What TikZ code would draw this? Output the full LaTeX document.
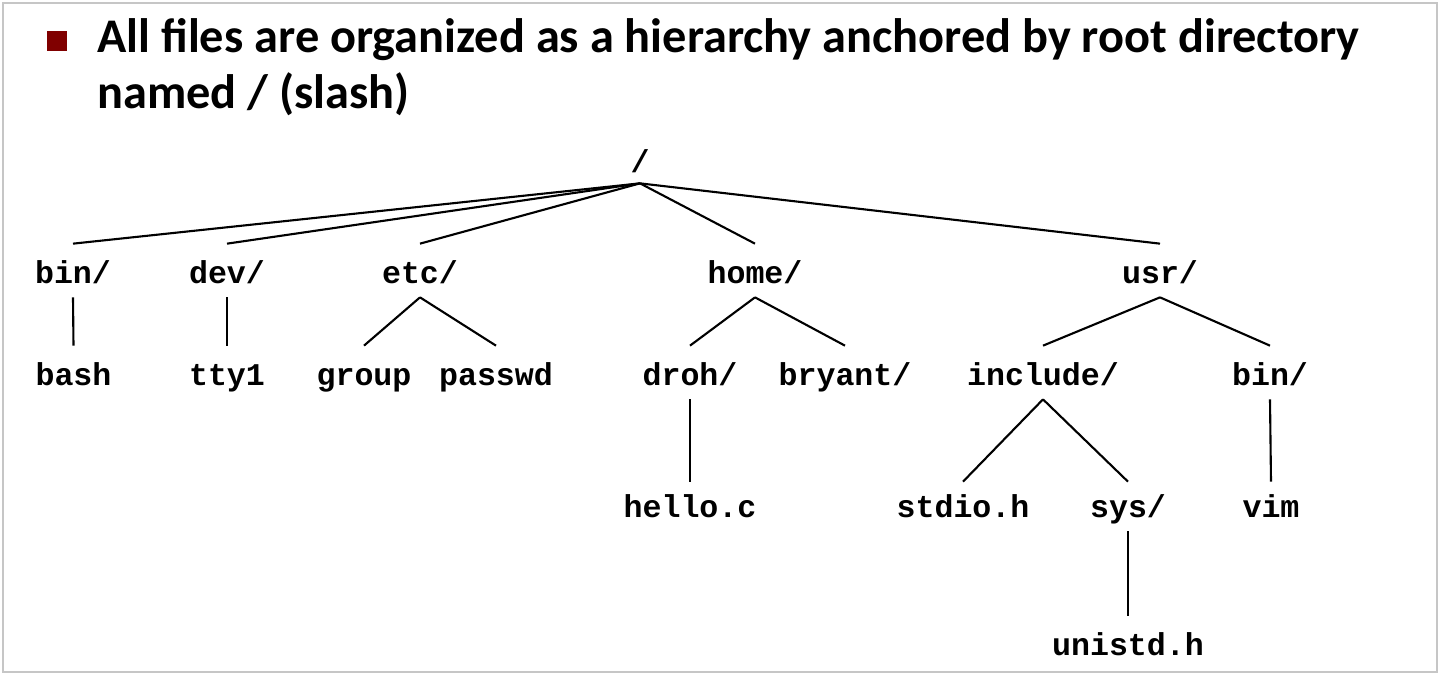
\documentclass[tikz,border=0pt]{standalone}
\usepackage{fontspec}
\setmonofont{Liberation Mono}
\newfontfamily\slidefont{Carlito}
\begin{document}
\begin{tikzpicture}
  \definecolor{bulletred}{RGB}{128,0,0}
  \tikzstyle{dir}=[font=\ttfamily\bfseries\fontsize{18}{20}\selectfont, inner sep=0pt, text height=0.78cm, text depth=0.28cm, anchor=base]
  \tikzstyle{link}=[line width=1.2pt]
  \useasboundingbox (0,0) rectangle (28.8,-13.5);
  \draw[gray!45, line width=0.7pt] (0.06,-0.06) rectangle (28.74,-13.44);

  % Titulo do slide, com o marcador quadrado
  % (base da ultima linha do texto)
  \node[fill=bulletred, minimum size=0.4cm, inner sep=0pt] (bullet) at (1.14,-0.81) {};
  \node[font=\slidefont\bfseries\fontsize{27.5}{31.5}\selectfont, align=left, anchor=base west, inner sep=0pt] (title) at (1.94,-2.16)
    {All files are organized as a hierarchy anchored by root directory\\named / (slash)};

  % Raiz
  \node[dir, text depth=0.22cm] (root) at (12.8,-3.44) {/};

  % Primeiro nivel
  \node[dir] (bin) at (1.46,-5.66) {bin/};
  \node[dir] (dev) at (4.54,-5.66) {dev/};
  \node[dir] (etc) at (8.40,-5.66) {etc/};
  \node[dir] (home) at (15.10,-5.66) {home/};
  \node[dir] (usr) at (23.20,-5.66) {usr/};

  \foreach \d in {bin,dev,etc,home,usr}
    \draw[link] (root.south) -- (\d.north);

  % Segundo nivel
  \node[dir] (bash) at (1.47,-7.70) {bash};
  \node[dir] (tty) at (4.54,-7.70) {tty1};
  \node[dir] (group) at (7.28,-7.70) {group};
  \node[dir] (passwd) at (9.92,-7.70) {passwd};
  \node[dir] (droh) at (13.80,-7.70) {droh/};
  \node[dir] (bryant) at (16.90,-7.70) {bryant/};
  \node[dir] (include) at (20.86,-7.70) {include/};
  \node[dir] (usrbin) at (25.40,-7.70) {bin/};

  \draw[link] (bin.south) -- (bash.north);
  \draw[link] (dev.south) -- (tty.north);
  \draw[link] (etc.south) -- (group.north);
  \draw[link] (etc.south) -- (passwd.north);
  \draw[link] (home.south) -- (droh.north);
  \draw[link] (home.south) -- (bryant.north);
  \draw[link] (usr.south) -- (include.north);
  \draw[link] (usr.south) -- (usrbin.north);

  % Terceiro nivel
  \node[dir, text height=0.7cm] (hello) at (13.80,-10.34) {hello.c};
  \node[dir, text height=0.7cm] (stdio) at (19.26,-10.34) {stdio.h};
  \node[dir, text height=0.7cm] (sys) at (22.56,-10.34) {sys/};
  \node[dir, text height=0.7cm] (vim) at (25.42,-10.34) {vim};

  \draw[link] (droh.south) -- (hello.north);
  \draw[link] (include.south) -- (stdio.north);
  \draw[link] (include.south) -- (sys.north);
  \draw[link] (usrbin.south) -- (vim.north);

  % Quarto nivel
  \node[dir] (unistd) at (22.56,-13.10) {unistd.h};
  \draw[link] (sys.south) -- (unistd.north);
\end{tikzpicture}
\end{document}
